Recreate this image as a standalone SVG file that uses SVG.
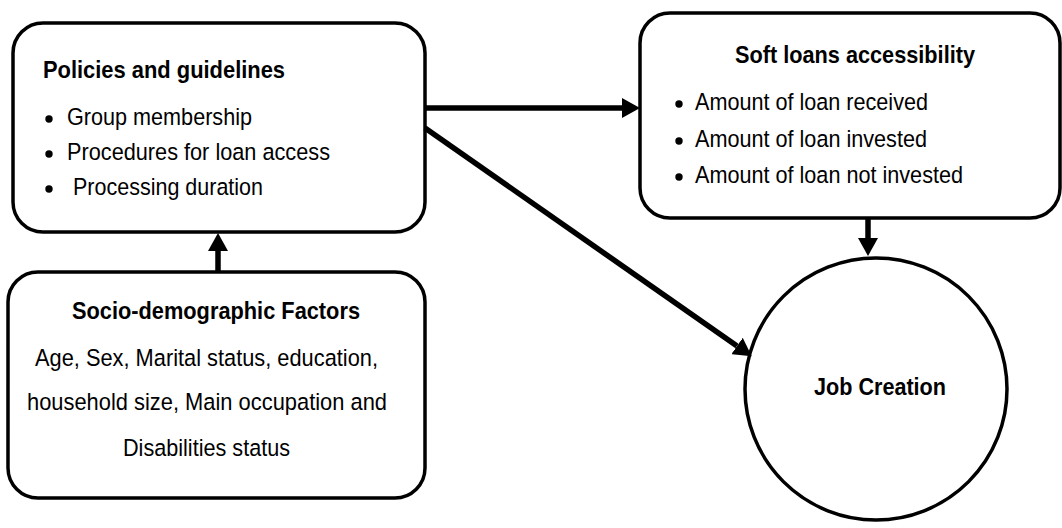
<svg xmlns="http://www.w3.org/2000/svg" width="1062" height="528" viewBox="0 0 1062 528">
<style>
.box{fill:#fff;stroke:#000;stroke-width:3.5}
.t{font-family:"Liberation Sans",Arial,sans-serif;font-size:24.5px;fill:#000}
.b{font-weight:bold}
.conn{stroke:#000;stroke-width:5.5;fill:none}
.dot{fill:#000}
</style>
<defs>
<marker id="ah" markerUnits="userSpaceOnUse" markerWidth="18" markerHeight="20" refX="0" refY="10" orient="auto" viewBox="0 0 18 20">
<path d="M0,0 L18,10 L0,20 z" fill="#000"/>
</marker>
</defs>
<rect width="1062" height="528" fill="#fff"/>
<g id="policies">
<rect class="box" x="13" y="23" width="412" height="209" rx="30"/>
<text class="t b" x="43" y="78" textLength="242" lengthAdjust="spacingAndGlyphs">Policies and guidelines</text>
<circle class="dot" cx="49" cy="119" r="3.7"/>
<text class="t" x="67" y="125" textLength="185" lengthAdjust="spacingAndGlyphs">Group membership</text>
<circle class="dot" cx="49" cy="154" r="3.7"/>
<text class="t" x="67" y="160" textLength="263" lengthAdjust="spacingAndGlyphs">Procedures for loan access</text>
<circle class="dot" cx="49" cy="189" r="3.7"/>
<text class="t" x="73" y="195" textLength="190" lengthAdjust="spacingAndGlyphs">Processing duration</text>
</g>
<g id="softloans">
<rect class="box" x="640" y="13" width="420" height="205" rx="30"/>
<text class="t b" x="735" y="63" textLength="240" lengthAdjust="spacingAndGlyphs">Soft loans accessibility</text>
<circle class="dot" cx="679" cy="104" r="3.7"/>
<text class="t" x="695" y="110" textLength="233" lengthAdjust="spacingAndGlyphs">Amount of loan received</text>
<circle class="dot" cx="679" cy="141" r="3.7"/>
<text class="t" x="695" y="147" textLength="232" lengthAdjust="spacingAndGlyphs">Amount of loan invested</text>
<circle class="dot" cx="679" cy="177" r="3.7"/>
<text class="t" x="695" y="183" textLength="268" lengthAdjust="spacingAndGlyphs">Amount of loan not invested</text>
</g>
<g id="socio">
<rect class="box" x="8" y="272" width="417" height="226" rx="30"/>
<text class="t b" x="72" y="319" textLength="288" lengthAdjust="spacingAndGlyphs">Socio-demographic Factors</text>
<text class="t" x="35" y="366" textLength="343" lengthAdjust="spacingAndGlyphs">Age, Sex, Marital status, education,</text>
<text class="t" x="27" y="410" textLength="360" lengthAdjust="spacingAndGlyphs">household size, Main occupation and</text>
<text class="t" x="123" y="456" textLength="167" lengthAdjust="spacingAndGlyphs">Disabilities status</text>
</g>
<g id="jobcreation">
<circle class="box" cx="876" cy="389" r="131"/>
<text class="t b" x="814" y="395" textLength="132" lengthAdjust="spacingAndGlyphs">Job Creation</text>
</g>
<g id="connectors">
<line class="conn" x1="425" y1="108" x2="622" y2="108" marker-end="url(#ah)"/>
<line class="conn" x1="425" y1="128" x2="737" y2="346" marker-end="url(#ah)"/>
<line class="conn" x1="868" y1="218" x2="868" y2="238" marker-end="url(#ah)"/>
<line class="conn" x1="218" y1="272" x2="218" y2="251" marker-end="url(#ah)"/>
</g>
</svg>
